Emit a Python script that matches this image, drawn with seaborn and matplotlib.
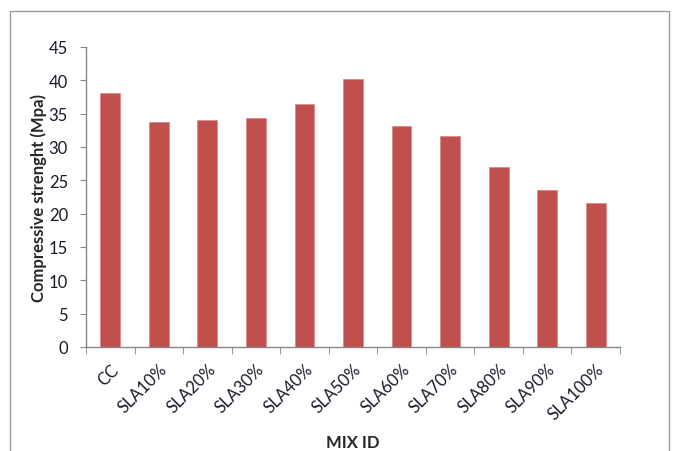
import numpy as np
import pandas as pd
import matplotlib
matplotlib.use("Agg")
import matplotlib.pyplot as plt
import seaborn as sns
from matplotlib.patches import Rectangle

# data
mix_ids = ["CC", "SLA10%", "SLA20%", "SLA30%", "SLA40%", "SLA50%",
           "SLA60%", "SLA70%", "SLA80%", "SLA90%", "SLA100%"]
strength = [38.1, 33.7, 34.1, 34.3, 36.4, 40.2, 33.1, 31.6, 27.0, 23.6, 21.6]

df = pd.DataFrame({"Mix": mix_ids, "Strength": strength})

sns.set_style("white")
plt.rcParams["font.family"] = ["Lato", "DejaVu Sans"]

fig = plt.figure(figsize=(6.73, 4.52), dpi=100)
ax = fig.add_axes([86 / 673, 1 - 348 / 452, (620 - 86) / 673, (348 - 48) / 452])

sns.barplot(x="Mix", y="Strength", data=df, color="#C0504D", width=0.41,
            edgecolor="#D98B89", linewidth=0.6, saturation=1, ax=ax)

ax.set_xlim(-0.5, len(mix_ids) - 0.5)
ax.set_ylim(0, 45)
ax.set_yticks(range(0, 46, 5))

axis_gray = "#868686"
for side in ["top", "right"]:
    ax.spines[side].set_visible(False)
for side in ["left", "bottom"]:
    ax.spines[side].set_color(axis_gray)
    ax.spines[side].set_linewidth(1.0)

# tick marks between categories, like the original
ax.set_xticks(np.arange(-0.5, len(mix_ids)), minor=True)
ax.tick_params(axis="x", which="major", length=0, pad=10)
ax.tick_params(axis="x", which="minor", length=5, color=axis_gray, direction="out", bottom=True)
ax.tick_params(axis="y", length=4, color=axis_gray, direction="out", left=True, pad=9)
ax.set_xticks(range(len(mix_ids)))
ax.set_xticklabels(mix_ids, rotation=45, ha="right", rotation_mode="anchor",
                   fontsize=12, color="#1a1a2a")
for lab in ax.get_yticklabels():
    lab.set_fontsize(12)
    lab.set_color("#1a1a2a")

ax.set_ylabel("Compressive strenght (Mpa)", fontsize=12, fontweight="bold", labelpad=1)
ax.set_xlabel("MIX ID", fontsize=12, fontweight="bold", labelpad=8)
ax.grid(False)

# outer chart border
fig.patches.append(Rectangle((10 / 673, -0.05), 659 / 673, 1 - 12 / 452 + 0.05,
                             transform=fig.transFigure, fill=False,
                             edgecolor="#9a9a9a", linewidth=1.0))

fig.savefig("out.png", dpi=100)
